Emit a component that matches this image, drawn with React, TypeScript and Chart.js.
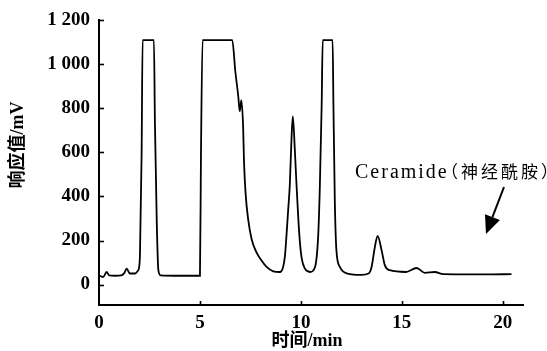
import React, { useEffect, useRef } from 'react';
import { Chart, registerables } from 'chart.js';

Chart.register(...registerables);

// Retention time (min)
const timeMin = [
  0.05, 0.2, 0.38, 0.5, 0.8, 1.1, 1.25, 1.37, 1.53, 1.78, 1.92, 1.98, 2.03, 2.11, 2.16,
  2.72, 2.77, 2.86, 2.94, 3.05, 4.0, 5.0, 5.05, 5.13,
  6.0, 6.6, 6.75, 6.9, 6.97, 7.05, 7.14, 7.18, 7.26, 7.39, 7.56, 7.8, 8.05, 8.3, 8.63, 8.96,
  9.12, 9.21, 9.29, 9.37, 9.45, 9.54, 9.6, 9.7, 9.79, 9.92, 10.03, 10.2, 10.45, 10.7, 10.86, 10.94, 11.03, 11.08,
  11.57, 11.61, 11.68, 11.76, 11.93, 12.3, 13.0, 13.35, 13.5, 13.66, 13.8, 14.0, 14.16, 14.4,
  15.2, 15.73, 16.14, 16.63, 17.05, 18.5, 19.5, 20.43,
];
// Detector response (mV)
const responseMV = [
  40, 34, 57, 42, 40, 42, 52, 72, 50, 50, 62, 75, 140, 587, 1110,
  1110, 734, 288, 65, 42, 40, 40, 587, 1110,
  1110, 1110, 970, 853, 787, 838, 712, 563, 414, 295, 206, 146, 109, 80, 60, 57,
  80, 130, 229, 340, 452, 675, 764, 610, 440, 229, 124, 72, 57, 80, 229, 452, 824, 1110,
  1110, 824, 377, 154, 80, 50, 44, 50, 80, 169, 221, 154, 87, 65,
  57, 75, 53, 57, 47, 46, 46, 47,
];

const xTickValues = [0, 5, 10, 15, 20];
const yTickValues = [0, 200, 400, 600, 800, 1000, 1200];
const xTitle = '时间/min';
const yTitle = '响应值/mV';
const noteLatin = 'Ceramide';
const noteCJK = '（神经酰胺）';

const SERIF = '"Liberation Serif", "Times New Roman", "Noto Sans CJK SC", serif';

function fmtY(v: number): string {
  if (v >= 1000) {
    return `${Math.floor(v / 1000)} ${String(v % 1000).padStart(3, '0')}`;
  }
  return String(v);
}

const decorPlugin = {
  id: 'decor',
  afterDraw(chart: any) {
    const ctx = chart.ctx as CanvasRenderingContext2D;
    const xs = chart.scales.x;
    const ys = chart.scales.y;
    const area = chart.chartArea;
    ctx.save();
    ctx.strokeStyle = '#000';
    ctx.lineWidth = 1.6;
    // inward tick marks
    yTickValues.forEach((v) => {
      const py = Math.round(ys.getPixelForValue(v)) + 0.5;
      ctx.beginPath();
      ctx.moveTo(area.left, py);
      ctx.lineTo(area.left + 5, py);
      ctx.stroke();
    });
    xTickValues.slice(1).forEach((v) => {
      const px = Math.round(xs.getPixelForValue(v)) + 0.5;
      ctx.beginPath();
      ctx.moveTo(px, area.bottom);
      ctx.lineTo(px, area.bottom - 4);
      ctx.stroke();
    });

    // axis titles
    ctx.fillStyle = '#000';
    ctx.font = `bold 18px ${SERIF}`;
    ctx.textAlign = 'center';
    ctx.textBaseline = 'middle';
    ctx.fillText(xTitle, 307, 341);
    ctx.save();
    ctx.translate(18.5, 145);
    ctx.rotate(-Math.PI / 2);
    ctx.fillText(yTitle, 0, 0);
    ctx.restore();

    // annotation
    ctx.textAlign = 'left';
    ctx.textBaseline = 'alphabetic';
    (ctx as any).letterSpacing = '2px';
    ctx.font = `20px ${SERIF}`;
    ctx.fillText(noteLatin, 355, 178);
    ctx.font = '17px "Noto Sans CJK SC", sans-serif';
    (ctx as any).letterSpacing = '3px';
    ctx.fillText(noteCJK, 441, 178);
    (ctx as any).letterSpacing = '0px';

    // arrow
    const tail = { x: 504, y: 187 };
    const tip = { x: 486, y: 234 };
    const dx = tip.x - tail.x;
    const dy = tip.y - tail.y;
    const len = Math.hypot(dx, dy);
    const ux = dx / len;
    const uy = dy / len;
    const headLen = 18;
    const halfW = 8;
    const bx = tip.x - ux * headLen;
    const by = tip.y - uy * headLen;
    ctx.lineWidth = 2;
    ctx.beginPath();
    ctx.moveTo(tail.x, tail.y);
    ctx.lineTo(bx, by);
    ctx.stroke();
    ctx.beginPath();
    ctx.moveTo(tip.x, tip.y);
    ctx.lineTo(bx + uy * halfW, by - ux * halfW);
    ctx.lineTo(bx - uy * halfW, by + ux * halfW);
    ctx.closePath();
    ctx.fill();
    ctx.restore();
  },
};

export default function App() {
  const canvasRef = useRef<HTMLCanvasElement | null>(null);

  useEffect(() => {
    const canvas = canvasRef.current;
    if (!canvas) return;
    const data = timeMin.map((t, i) => ({ x: t, y: responseMV[i] }));
    const chart = new Chart(canvas, {
      type: 'line',
      data: {
        datasets: [
          {
            data,
            borderColor: '#000',
            borderWidth: 1.8,
            pointRadius: 0,
            fill: false,
            cubicInterpolationMode: 'monotone',
          },
        ],
      },
      options: {
        animation: false,
        responsive: false,
        devicePixelRatio: 1,
        layout: { padding: { top: 15, right: 24, left: 0, bottom: 0 } },
        plugins: {
          legend: { display: false },
          tooltip: { enabled: false },
        },
        scales: {
          x: {
            type: 'linear',
            min: 0,
            max: 21,
            grid: { display: false, drawTicks: false },
            border: { display: true, color: '#000', width: 2 },
            afterBuildTicks: (scale: any) => {
              scale.ticks = xTickValues.map((v) => ({ value: v }));
            },
            afterFit: (scale: any) => {
              scale.height = 46;
            },
            ticks: {
              color: '#000',
              padding: 7,
              maxRotation: 0,
              font: { family: SERIF, size: 19, weight: 'bold' },
              callback: (v: any) => String(v),
            },
          },
          y: {
            type: 'linear',
            min: -93,
            max: 1200,
            grid: { display: false, drawTicks: false },
            border: { display: true, color: '#000', width: 2 },
            afterBuildTicks: (scale: any) => {
              scale.ticks = yTickValues.map((v) => ({ value: v }));
            },
            afterFit: (scale: any) => {
              scale.width = 99;
            },
            ticks: {
              color: '#000',
              padding: 9,
              font: { family: SERIF, size: 19, weight: 'bold' },
              callback: (v: any) => fmtY(Number(v)),
            },
          },
        },
      },
      plugins: [decorPlugin],
    });
    return () => chart.destroy();
  }, []);

  return (
    <div style={{ position: 'fixed', left: 0, top: 0, width: 547, height: 351, background: '#fff' }}>
      <canvas ref={canvasRef} width={547} height={351} style={{ display: 'block' }} />
    </div>
  );
}
